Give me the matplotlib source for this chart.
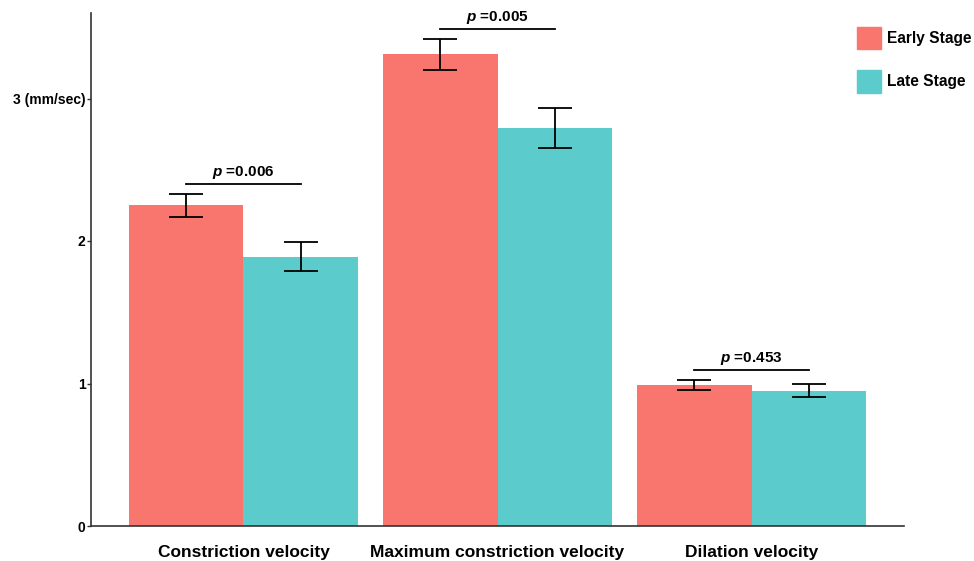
import numpy as np
import matplotlib.pyplot as plt
from matplotlib.patches import Patch

plt.rcParams['font.family'] = ['Liberation Sans', 'DejaVu Sans']
plt.rcParams['mathtext.fontset'] = 'custom'
plt.rcParams['mathtext.it'] = 'Liberation Sans:italic:bold'
plt.rcParams['mathtext.rm'] = 'Liberation Sans:bold'

# Data
categories = ["Constriction velocity", "Maximum constriction velocity", "Dilation velocity"]
early_mean = [2.25, 3.31, 0.99]
early_err = [0.08, 0.11, 0.033]
late_mean = [1.89, 2.79, 0.95]
late_err = [0.10, 0.14, 0.045]
p_values = ["0.006", "0.005", "0.453"]
p_heights = [2.40, 3.49, 1.095]
yticks = [0, 1, 2, 3]
ytick_labels = ["0", "1", "2", "3 (mm/sec)"]

early_color = "#F8766D"
late_color = "#5BCBCB"

fig = plt.figure(figsize=(9.74, 5.61), dpi=100)
ax = fig.add_axes([91 / 974, 1 - 526 / 561, (904 - 91) / 974, (526 - 13) / 561])

x = np.arange(1, len(categories) + 1)
w = 0.45
ax.bar(x - w / 2, early_mean, w, color=early_color, label="Early Stage")
ax.bar(x + w / 2, late_mean, w, color=late_color, label="Late Stage")
ax.errorbar(x - w / 2, early_mean, yerr=early_err, fmt="none", ecolor="black",
            elinewidth=1.3, capsize=12, capthick=1.3)
ax.errorbar(x + w / 2, late_mean, yerr=late_err, fmt="none", ecolor="black",
            elinewidth=1.3, capsize=12, capthick=1.3)

# significance lines
for xi, h, p in zip(x, p_heights, p_values):
    ax.plot([xi - w / 2, xi + w / 2], [h, h], color="black", lw=1.3)
    ax.text(xi, h + 0.02, f"$p$ ={p}", ha="center", va="bottom",
            fontsize=11, fontweight="bold")

ax.set_xlim(0.4, 3.6)
ax.set_ylim(0, 3.6)
ax.set_xticks(x)
ax.set_xticklabels(categories, fontsize=12.5, fontweight="bold")
ax.set_yticks(yticks)
ax.set_yticklabels(ytick_labels, fontsize=10, fontweight="bold")
ax.tick_params(axis="x", length=0, pad=14)
ax.tick_params(axis="y", length=3, width=1, color="#333333", pad=1)
for s in ["top", "right"]:
    ax.spines[s].set_visible(False)
for s in ["left", "bottom"]:
    ax.spines[s].set_color("#333333")
    ax.spines[s].set_linewidth(1.2)

handles = [Patch(color=early_color, label="Early Stage"),
           Patch(color=late_color, label="Late Stage")]
leg = fig.legend(handles=handles, loc="upper left", bbox_to_anchor=(857 / 974, 1 - 26.7 / 561),
                 frameon=False, prop={"weight": "bold", "size": 11.2},
                 borderaxespad=0, borderpad=0,
                 handlelength=1.55, handleheight=1.87, labelspacing=1.32, handletextpad=0.4)

fig.savefig("out.png", dpi=100)
